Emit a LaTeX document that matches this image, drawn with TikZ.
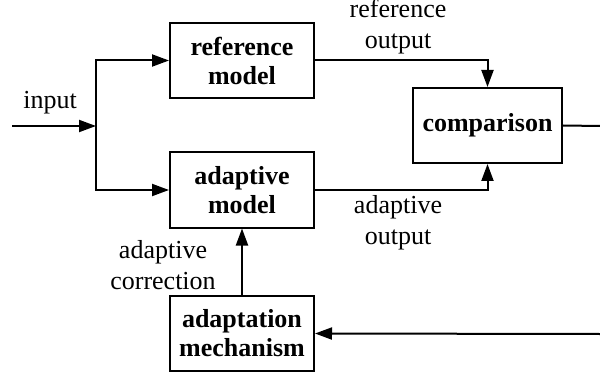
\documentclass[tikz,border=0pt]{standalone}
\usepackage{fontspec}
\setmainfont{Liberation Serif}
\usetikzlibrary{arrows.meta}
\begin{document}
\begin{tikzpicture}[x=0.5pt,y=-0.5pt,
  blk/.style={draw,line width=1pt,minimum width=72pt,minimum height=37.5pt,inner sep=0pt,align=center,font=\fontsize{13}{14.5}\selectfont\bfseries},
  lbl/.style={align=center,inner sep=0pt,font=\fontsize{13}{15.5}\selectfont},
  conn/.style={line width=1pt,-{Triangle[length=8.5pt,width=6pt]}},
  wire/.style={line width=1pt}]
\useasboundingbox (0,0) rectangle (600,374);
\node[blk] (ref) at (242,60.5) {reference\\model};
\node[blk] (adp) at (242,190) {adaptive\\model};
\node[blk,minimum width=74.5pt] (cmp) at (487.5,125.5) {comparison};
\node[blk] (mech) at (242,333.5) {adaptation\\mechanism};
\coordinate (in) at (12,126);
\coordinate (j) at (96,126);
\coordinate (o1) at (600,126);
\coordinate (o2) at (600,334);
\draw[conn] (in) -- (j);
\draw[conn] (j) |- (ref.west);
\draw[conn] (j) |- (adp.west);
\draw[conn] (ref.east) -| (cmp.north);
\draw[conn] (adp.east) -| (cmp.south);
\draw[wire] (cmp.east) -- (o1);
\draw[conn] (o2) -- (mech.east);
\draw[conn] (mech.north) -- (adp.south);
\node[lbl] (inl) at (50,103) {input};
\node[lbl] (rol) at (398,26.5) {reference\\output};
\node[lbl] (aol) at (398,222.5) {adaptive\\output};
\node[lbl] (acl) at (163,265) {adaptive\\correction};
\end{tikzpicture}
\end{document}
